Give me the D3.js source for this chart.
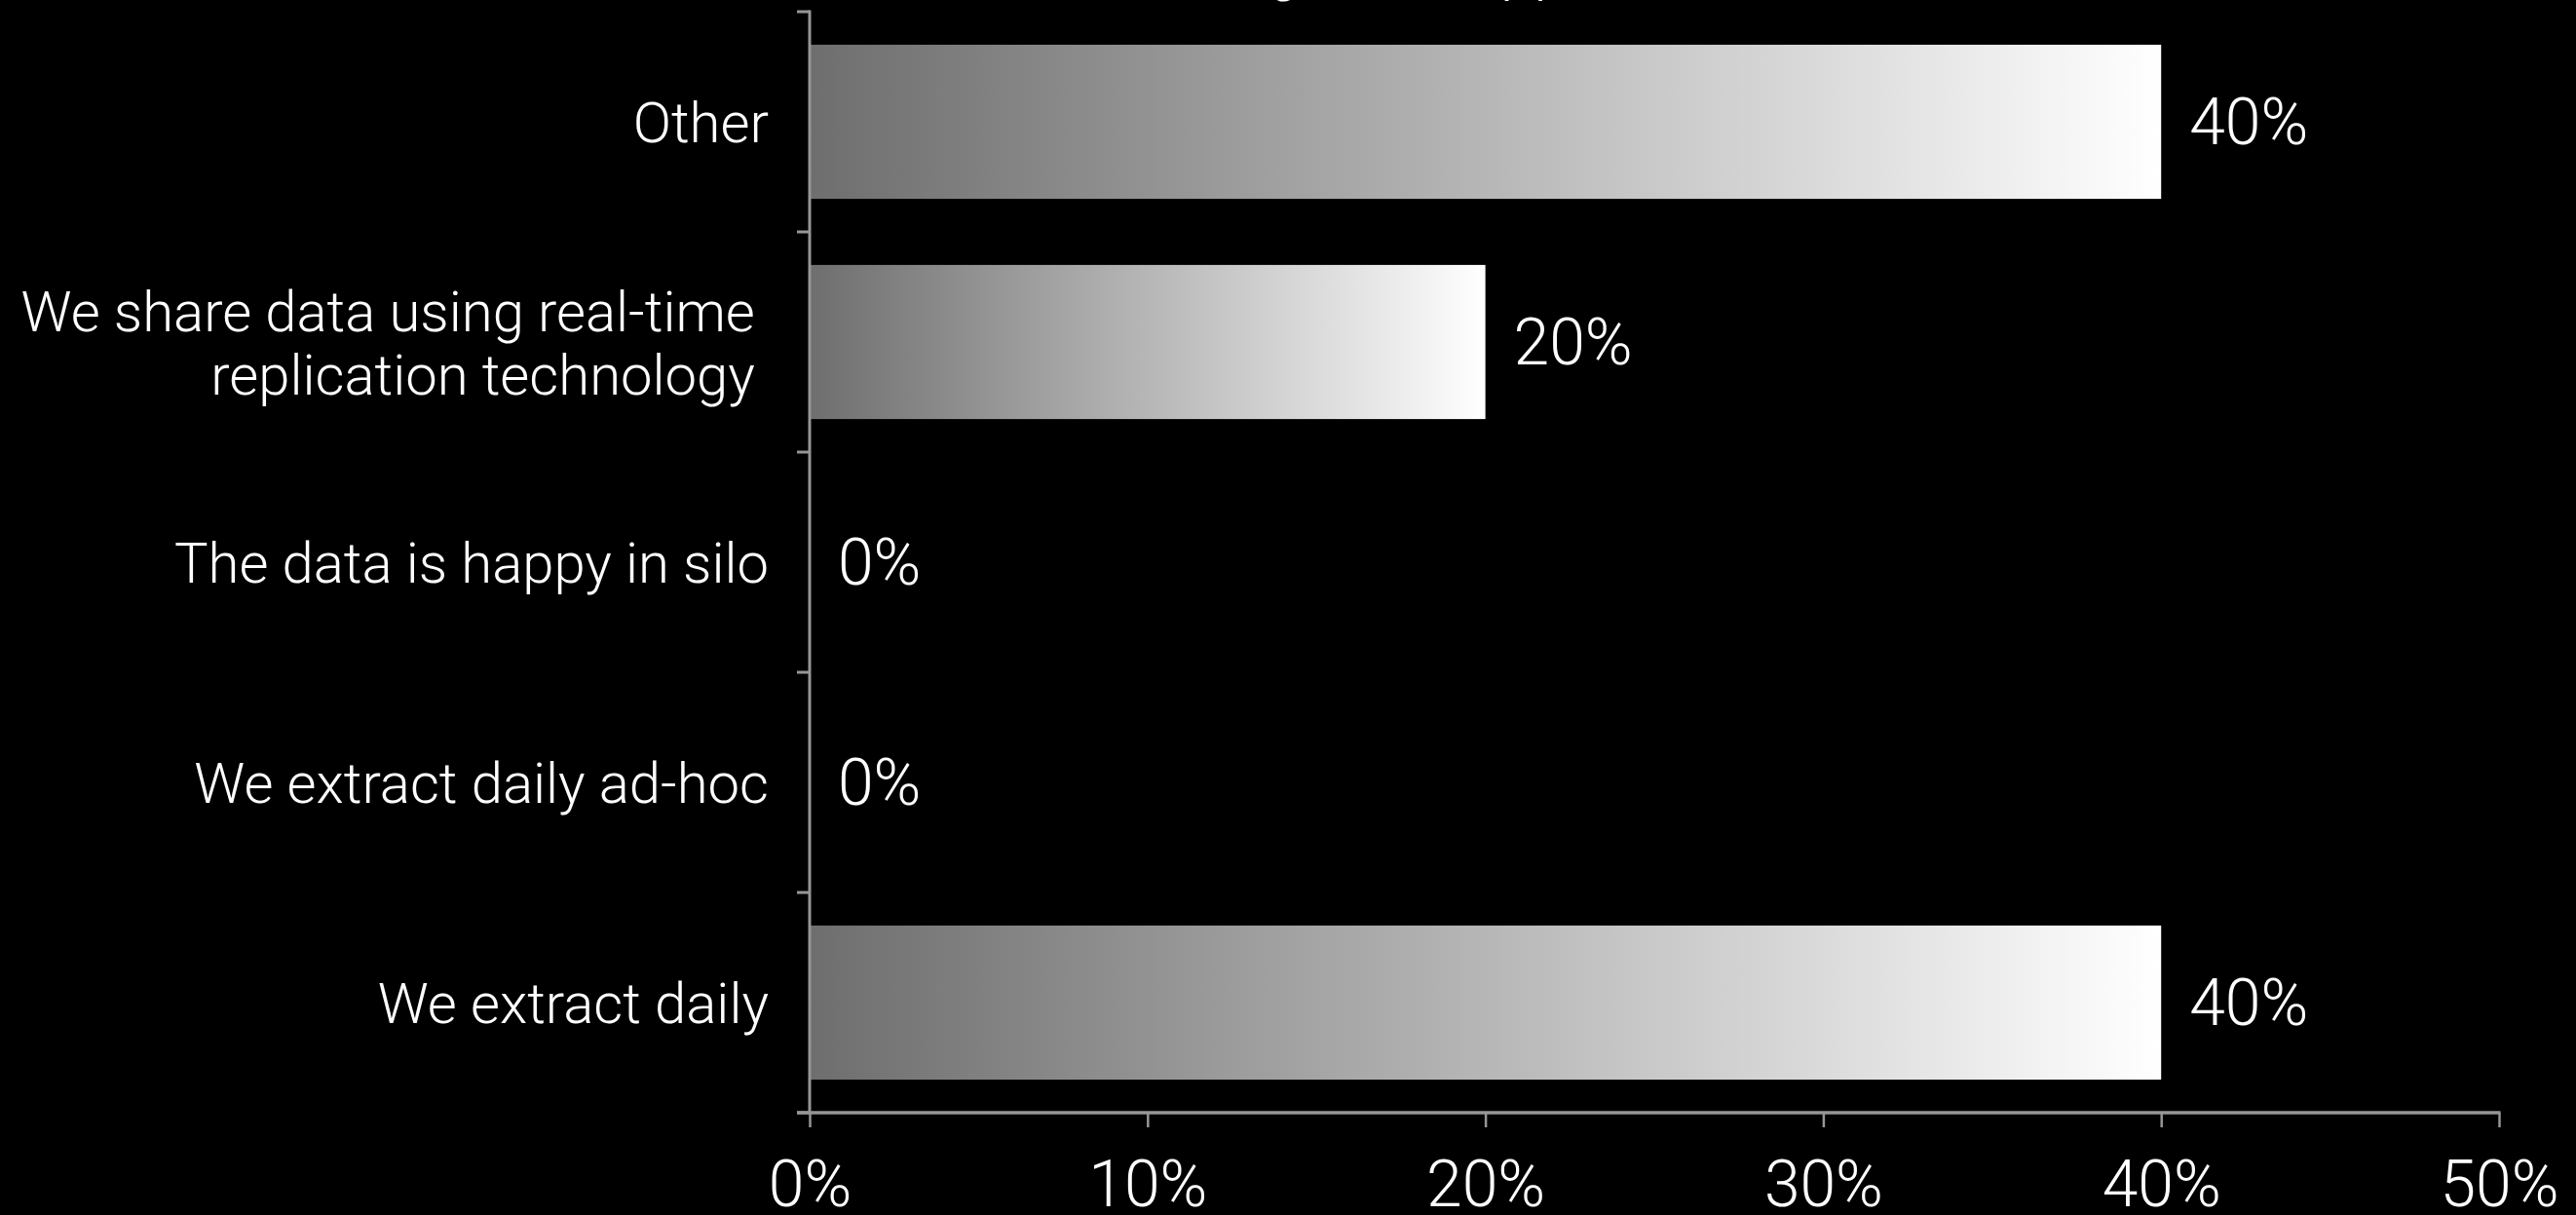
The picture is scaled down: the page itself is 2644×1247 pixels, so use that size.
<!DOCTYPE html>
<html>
<head>
<meta charset="utf-8">
<script src="https://cdn.jsdelivr.net/npm/d3@7"></script>
<style>
  html, body { margin: 0; padding: 0; background: #000; overflow: hidden; }
  svg { display: block; }
  text { font-family: "Helvetica Neue", Roboto, "Liberation Sans", sans-serif; font-weight: 300; fill: #fff; white-space: pre; }
</style>
</head>
<body>
<svg id="chart" width="2644" height="1247"></svg>
<script>
// ---- data ----
const titleText = "Data is shared in batch, using other application, etc.";
const categories = [
  "Other",
  "We share data using real-time \nreplication technology ",
  "The data is happy in silo",
  "We extract daily ad-hoc",
  "We extract daily"
];
const values = [0.40, 0.20, 0.00, 0.00, 0.40];
const xTicks = [0, 0.1, 0.2, 0.3, 0.4, 0.5];

// ---- layout ----
const W = 2644, H = 1247;
const svg = d3.select("#chart");
const axisColor = "#969696";
const plot = { left: 831, right: 2565, top: 12, bottom: 1142 };

const x = d3.scaleLinear().domain([0, 0.5]).range([plot.left, plot.right]);
const y = d3.scaleBand().domain(categories).range([plot.top, plot.bottom])
  .paddingInner(0.3).paddingOuter(0.15);

const defs = svg.append("defs");
const grad = defs.append("linearGradient").attr("id", "barGrad")
  .attr("x1", "0").attr("x2", "1").attr("y1", "0").attr("y2", "0");
grad.append("stop").attr("offset", "0%").attr("stop-color", "#6e6e6e");
grad.append("stop").attr("offset", "100%").attr("stop-color", "#ffffff");

// title (mostly above the visible area, as in the reference)
const title = svg.append("text").attr("font-size", 62).attr("y", -11).text(titleText);
const tmp = svg.append("text").attr("font-size", 62).text("Data is shared in batch");
const prefixW = tmp.node().getComputedTextLength();
tmp.remove();
title.attr("x", 1160 - prefixW);

// bars
svg.append("g").selectAll("rect").data(categories).join("rect")
  .attr("x", x(0))
  .attr("y", d => y(d))
  .attr("width", (d, i) => x(values[i]) - x(0))
  .attr("height", y.bandwidth())
  .attr("fill", "url(#barGrad)");

// value labels
svg.append("g").selectAll("text").data(categories).join("text")
  .attr("x", (d, i) => x(values[i]) + 29)
  .attr("y", d => y(d) + y.bandwidth() / 2)
  .attr("dy", "0.35em")
  .attr("font-size", 66)
  .text((d, i) => d3.format(".0%")(values[i]));

// y axis line and boundary ticks
svg.append("line")
  .attr("x1", plot.left).attr("x2", plot.left)
  .attr("y1", plot.top - 1.5).attr("y2", plot.bottom)
  .attr("stroke", axisColor).attr("stroke-width", 3);
const boundaries = d3.range(categories.length + 1).map(i => plot.top + i * y.step());
svg.append("g").selectAll("line").data(boundaries).join("line")
  .attr("x1", plot.left - 13).attr("x2", plot.left)
  .attr("y1", d => d).attr("y2", d => d)
  .attr("stroke", axisColor).attr("stroke-width", 3);

// category labels
const lineH = 65;
const catG = svg.append("g");
categories.forEach(c => {
  const lines = c.split("\n");
  const cy = y(c) + y.bandwidth() / 2;
  const t = catG.append("text")
    .attr("text-anchor", "end")
    .attr("font-size", 58)
    .attr("y", cy);
  lines.forEach((ln, j) => {
    t.append("tspan")
      .attr("x", plot.left - 42)
      .attr("y", cy + (j - (lines.length - 1) / 2) * lineH)
      .attr("dy", "0.37em")
      .text(ln);
  });
});

// x axis
const xAxis = d3.axisBottom(x).tickValues(xTicks).tickFormat(d3.format(".0%"))
  .tickSize(15).tickSizeOuter(0);
const gx = svg.append("g").attr("transform", `translate(0,${plot.bottom})`).call(xAxis);
gx.select(".domain").remove();
gx.selectAll(".tick line").attr("stroke", axisColor).attr("stroke-width", 2.5);
gx.selectAll(".tick text")
  .attr("fill", "#fff")
  .attr("font-size", 66)
  .attr("font-family", null)
  .attr("y", 96).attr("dy", 0);
svg.append("line")
  .attr("x1", plot.left - 13).attr("x2", plot.right + 1.5)
  .attr("y1", plot.bottom).attr("y2", plot.bottom)
  .attr("stroke", axisColor).attr("stroke-width", 3.5);
</script>
</body>
</html>
